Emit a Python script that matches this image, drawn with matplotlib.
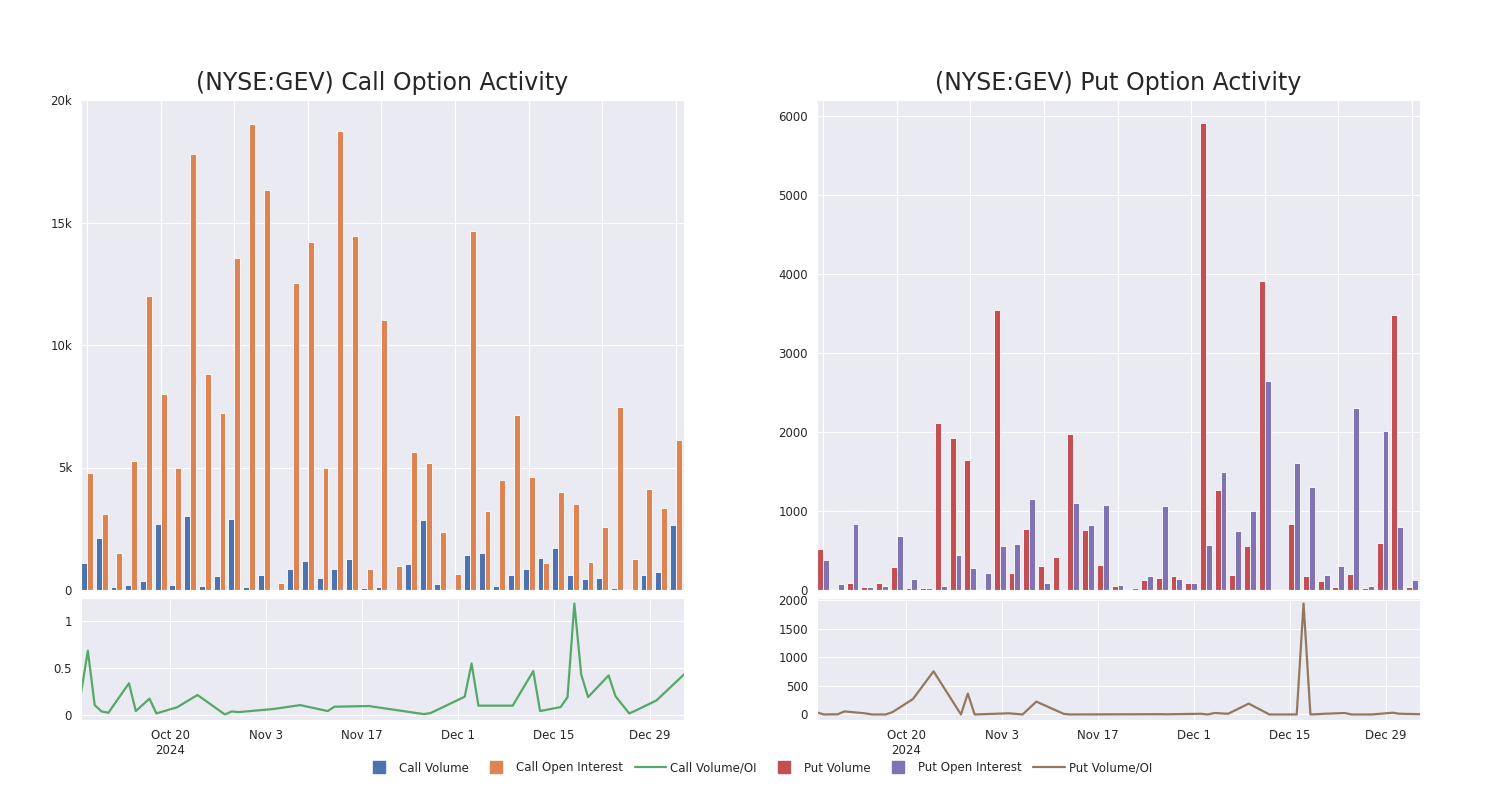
import numpy as np
import pandas as pd
import matplotlib
matplotlib.use("Agg")
import matplotlib.pyplot as plt
from matplotlib.ticker import FuncFormatter
from matplotlib.lines import Line2D
import seaborn as sns

sns.set_style("darkgrid")
plt.rcParams['font.family'] = ['DejaVu Sans']

# trading days present in the data
dates = pd.to_datetime([
    "2024-10-07", "2024-10-08", "2024-10-09", "2024-10-10", "2024-10-11",
    "2024-10-14", "2024-10-15", "2024-10-17", "2024-10-18", "2024-10-21",
    "2024-10-24", "2024-10-28", "2024-10-29", "2024-10-30", "2024-11-04",
    "2024-11-06", "2024-11-08", "2024-11-12", "2024-11-13", "2024-11-18",
    "2024-11-26", "2024-11-27", "2024-12-02", "2024-12-03", "2024-12-04",
    "2024-12-06", "2024-12-09", "2024-12-12", "2024-12-13", "2024-12-16",
    "2024-12-17", "2024-12-18", "2024-12-19", "2024-12-20", "2024-12-23",
    "2024-12-24", "2024-12-26", "2024-12-27", "2024-12-30", "2024-12-31",
    "2025-01-03"])

call_volume = [1090, 2110, 140, 200, 380, 2700, 200, 3030, 160, 570,
               2900, 130, 610, 10, 860, 1190, 500, 840, 1270, 80,
               120, 20, 1080, 2850, 230, 60, 1420, 1500, 180, 600,
               870, 1300, 1730, 630, 450, 480, 100, 60, 630, 750, 2650]
call_oi = [4770, 3100, 1510, 5250, 12020, 8000, 4970, 17790, 8820, 7210,
           13540, 19040, 16320, 270, 12540, 14210, 4970, 18720, 14450, 860,
           11030, 970, 5630, 5190, 2360, 640, 14660, 3240, 4470, 7130,
           4610, 1090, 4000, 3530, 1130, 2560, 7460, 1280, 4120, 3350, 6110]
call_ratio = [0.23, 0.68, 0.106, 0.039, 0.025, 0.337, 0.043, 0.174, 0.018, 0.082,
              0.213, 0.007, 0.039, 0.032, 0.064, 0.085, 0.106, 0.043, 0.089, 0.096,
              0.011, 0.021, 0.195, 0.546, 0.1, 0.1, 0.1, 0.465, 0.043, 0.085,
              0.19, 1.18, 0.43, 0.19, 0.42, 0.2, 0.018, 0.05, 0.156, 0.225, 0.43]

put_volume = [523, 17, 93, 34, 89, 295, 30, 25, 2114, 1928,
              1641, 17, 3544, 211, 768, 308, 422, 1975, 755, 316,
              55, 13, 127, 148, 177, 93, 5903, 1262, 194, 553,
              3911, 17, 831, 177, 118, 42, 207, 21, 599, 3473, 42]
put_oi = [380, 72, 840, 42, 55, 684, 139, 21, 51, 443,
          278, 219, 553, 586, 1152, 93, 2, 1097, 827, 1076,
          60, 30, 181, 1068, 139, 89, 574, 1494, 743, 996,
          2641, 13, 1608, 1308, 194, 308, 2308, 51, 2008, 793, 122]
put_ratio = [35, 0, 2, 3, 53, 20, 0, 0, 40, 270,
             755, 0, 365, 0, 20, 0, 225, 10, 0, 2,
             5, 3, 12, 0, 25, 12, 190, 0, 0, 0,
             1940, 0, 5, 12, 25, 0, 0, 0, 30, 12, 5]

tick_dates = pd.to_datetime(["2024-10-20", "2024-11-03", "2024-11-17",
                             "2024-12-01", "2024-12-15", "2024-12-29"])
tick_labels = ["Oct 20\n2024", "Nov 3", "Nov 17", "Dec 1", "Dec 15", "Dec 29"]

deep = sns.color_palette("deep")
text_color = "#262626"
fs = 8.5

fig = plt.figure(figsize=(15, 8), dpi=100)


def draw_panel(left, title, vol, oi, ratio, colors, bar_fmt, line_fmt):
    ax_bar = fig.add_axes([left, 0.2625, 0.402, 0.6125])
    ax_line = fig.add_axes([left, 0.1, 0.402, 0.1525])

    x = np.arange(len(vol))
    ax_bar.bar(x - 0.2, vol, width=0.4, color=colors[0], edgecolor='white', linewidth=0.6)
    ax_bar.bar(x + 0.2, oi, width=0.4, color=colors[1], edgecolor='white', linewidth=0.6)
    ax_bar.set_xlim(-0.41, 40.55)
    ax_bar.set_xticks(range(0, 41, 5))
    ax_bar.set_xticklabels([])
    ax_bar.yaxis.set_major_formatter(bar_fmt)
    ax_bar.tick_params(labelsize=fs, colors=text_color, pad=3)
    ax_bar.set_title(title, fontsize=17, color=text_color, pad=7)

    ax_line.plot(dates, ratio, color=colors[2], linewidth=1.6)
    ax_line.set_xlim(dates[0], dates[-1])
    ax_line.set_xticks(tick_dates)
    ax_line.set_xticklabels(tick_labels)
    ax_line.yaxis.set_major_formatter(line_fmt)
    ax_line.tick_params(labelsize=fs, colors=text_color, pad=3)
    return ax_bar, ax_line


kfmt = FuncFormatter(lambda v, p: "0" if v == 0 else f"{v / 1000:g}k")
gfmt = FuncFormatter(lambda v, p: f"{v:g}")
plainfmt = FuncFormatter(lambda v, p: f"{v:.0f}")

call_bar, call_line = draw_panel(0.054, "(NYSE:GEV) Call Option Activity",
                                 call_volume, call_oi, call_ratio,
                                 [deep[0], deep[1], deep[2]], kfmt, gfmt)
call_bar.set_yticks(range(0, 20001, 5000))
call_bar.set_ylim(0, 20000)
call_line.set_yticks([0, 0.5, 1])

put_bar, put_line = draw_panel(0.5447, "(NYSE:GEV) Put Option Activity",
                               put_volume, put_oi, put_ratio,
                               [deep[3], deep[4], deep[5]], plainfmt, plainfmt)
put_bar.set_yticks(range(0, 7000, 1000))
put_line.set_yticks([0, 500, 1000, 1500, 2000])

handles = [
    Line2D([], [], marker='s', linestyle='', markersize=9, color=deep[0]),
    Line2D([], [], marker='s', linestyle='', markersize=9, color=deep[1]),
    Line2D([], [], color=deep[2], linewidth=1.6),
    Line2D([], [], marker='s', linestyle='', markersize=9, color=deep[3]),
    Line2D([], [], marker='s', linestyle='', markersize=9, color=deep[4]),
    Line2D([], [], color=deep[5], linewidth=1.6),
]
labels = ["Call Volume", "Call Open Interest", "Call Volume/OI",
          "Put Volume", "Put Open Interest", "Put Volume/OI"]
leg = fig.legend(handles, labels, loc='center', bbox_to_anchor=(0.505, 0.04),
                 ncol=6, frameon=False, fontsize=fs, handlelength=2.7,
                 handletextpad=0.3, columnspacing=1.0)
for t in leg.get_texts():
    t.set_color(text_color)

fig.savefig("out.png", dpi=100)
